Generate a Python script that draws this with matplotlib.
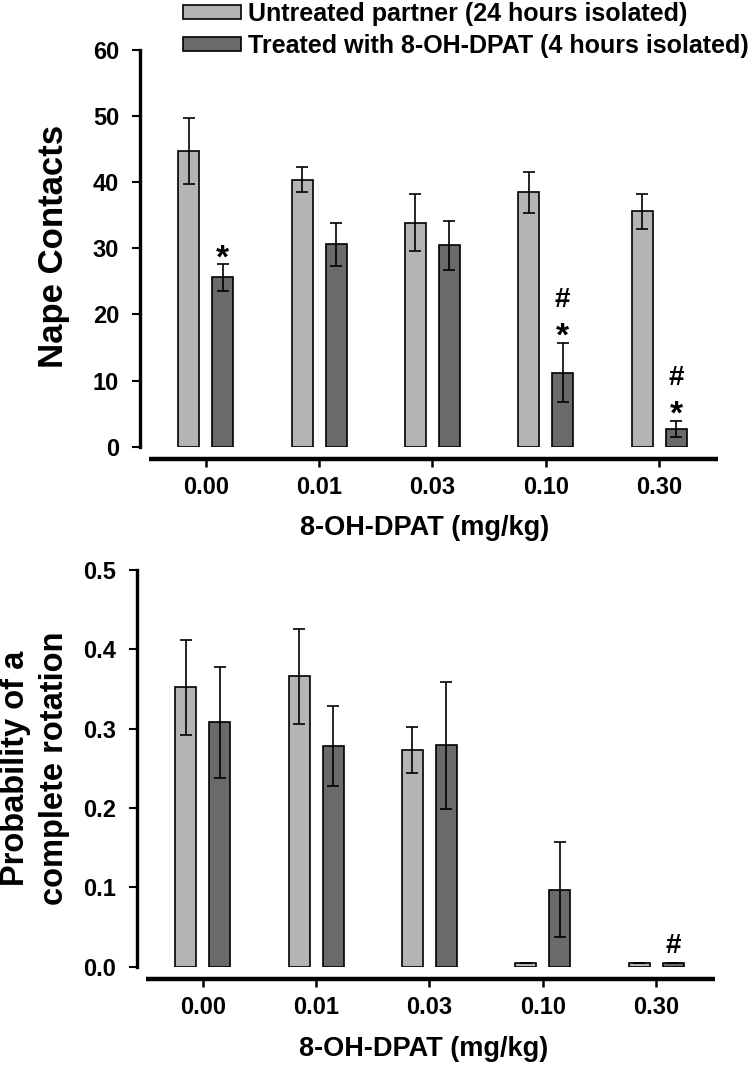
import matplotlib
matplotlib.use('Agg')
import matplotlib.pyplot as plt
from matplotlib.patches import Patch
import numpy as np

### Data
doses = ['0.00', '0.01', '0.03', '0.10', '0.30']
series_labels = ['Untreated partner (24 hours isolated)',
                 'Treated with 8-OH-DPAT (4 hours isolated)']

# Nape contacts (mean, sem)
nape_untreated = [44.7, 40.4, 33.9, 38.5, 35.6]
nape_untreated_err = [5.0, 1.9, 4.3, 3.1, 2.6]
nape_treated = [25.6, 30.6, 30.5, 11.2, 2.7]
nape_treated_err = [2.0, 3.3, 3.7, 4.5, 1.2]
nape_marks = ['*', '', '', '#*', '#*']

# Probability of a complete rotation (mean, sem)
rot_untreated = [0.352, 0.366, 0.273, 0.005, 0.005]
rot_untreated_err = [0.060, 0.060, 0.029, 0.0, 0.0]
rot_treated = [0.308, 0.278, 0.279, 0.097, 0.005]
rot_treated_err = [0.070, 0.050, 0.080, 0.060, 0.0]
rot_marks = ['', '', '', '', '#']

light = '#b4b4b4'
dark = '#6a6a6a'

plt.rcParams['font.family'] = ['Liberation Sans', 'DejaVu Sans']
plt.rcParams['font.weight'] = 'bold'

fig = plt.figure(figsize=(7.5, 10.69), dpi=100)
W, H = 750., 1069.

def setup_axes(ax, ymax, ystep, fmt):
    ax.set_xlim(-0.58, 4.52)
    ax.set_ylim(0, ymax)
    ax.spines['top'].set_visible(False)
    ax.spines['right'].set_visible(False)
    ax.spines['left'].set_linewidth(2.4)
    ax.spines['left'].set_bounds(0, ymax)
    ax.spines['bottom'].set_linewidth(3.2)
    ax.spines['bottom'].set_position(('outward', 9))
    ax.spines['bottom'].set_bounds(-0.5, 4.52)
    ax.spines['bottom'].set_capstyle('butt')
    ax.set_yticks(np.arange(0, ymax + ystep / 2, ystep))
    ax.set_yticklabels([fmt % v for v in np.arange(0, ymax + ystep / 2, ystep)])
    ax.set_xticks(np.arange(len(doses)))
    ax.set_xticklabels(doses)
    ax.tick_params(axis='y', length=6, width=1.5, pad=9, labelsize=17)
    ax.tick_params(axis='x', length=6, width=1.8, pad=6, labelsize=17)

def draw_bars(ax, a, a_err, b, b_err, marks, star_off, hash_off):
    x = np.arange(len(doses))
    off = 0.15
    w = 0.185
    ax.bar(x - off, a, w, color=light, edgecolor='black', linewidth=1.2, zorder=2)
    ax.bar(x + off, b, w, color=dark, edgecolor='black', linewidth=1.2, zorder=2)
    ax.errorbar(x - off, a, yerr=a_err, fmt='none', ecolor='black',
                elinewidth=1.2, capsize=4.3, capthick=1.2, zorder=3)
    ax.errorbar(x + off, b, yerr=b_err, fmt='none', ecolor='black',
                elinewidth=1.2, capsize=4.3, capthick=1.2, zorder=3)
    for i, m in enumerate(marks):
        top = b[i] + b_err[i]
        if '*' in m:
            ax.annotate('*', (x[i] + off, top), xytext=(0, star_off),
                        textcoords='offset points', ha='center', va='center',
                        fontsize=24, fontweight='bold')
        if '#' in m:
            ax.annotate('#', (x[i] + off, top), xytext=(0, hash_off),
                        textcoords='offset points', ha='center', va='center',
                        fontsize=20, fontweight='bold')

### Nape contacts
ax1 = fig.add_axes([140 / W, 1 - 446.7 / H, 578 / W, 396.7 / H])
setup_axes(ax1, 60, 10, '%d')
draw_bars(ax1, nape_untreated, nape_untreated_err, nape_treated, nape_treated_err,
          nape_marks, 4, 31)
fig.text(54 / W, 1 - 246 / H, 'Nape Contacts', rotation=90, ha='center',
         va='center', fontsize=25, fontweight='bold')
fig.text(425 / W, 1 - 528 / H, '8-OH-DPAT (mg/kg)', ha='center', va='center',
         fontsize=19.5, fontweight='bold')

### Complete rotation
ax2 = fig.add_axes([137 / W, 1 - 966.7 / H, 578 / W, 396.7 / H])
setup_axes(ax2, 0.5, 0.1, '%.1f')
draw_bars(ax2, rot_untreated, rot_untreated_err, rot_treated, rot_treated_err,
          rot_marks, 5, 12)
fig.text(35 / W, 1 - 768 / H, 'Probability of a\ncomplete rotation', rotation=90,
         ha='center', va='center', fontsize=23.5, fontweight='bold',
         multialignment='center', linespacing=1.35)
fig.text(424 / W, 1 - 1049 / H, '8-OH-DPAT (mg/kg)', ha='center', va='center',
         fontsize=19.5, fontweight='bold')

### Legend
handles = [Patch(facecolor=light, edgecolor='black', linewidth=1.2),
           Patch(facecolor=dark, edgecolor='black', linewidth=1.2)]
fig.legend(handles, series_labels, loc='upper left',
           bbox_to_anchor=(183 / W, 1 - 2 / H), frameon=False, borderpad=0,
           borderaxespad=0, handlelength=2.3, handleheight=0.45,
           handletextpad=0.3, labelspacing=0.32, fontsize=18)

plt.savefig('out.png', dpi=100)
